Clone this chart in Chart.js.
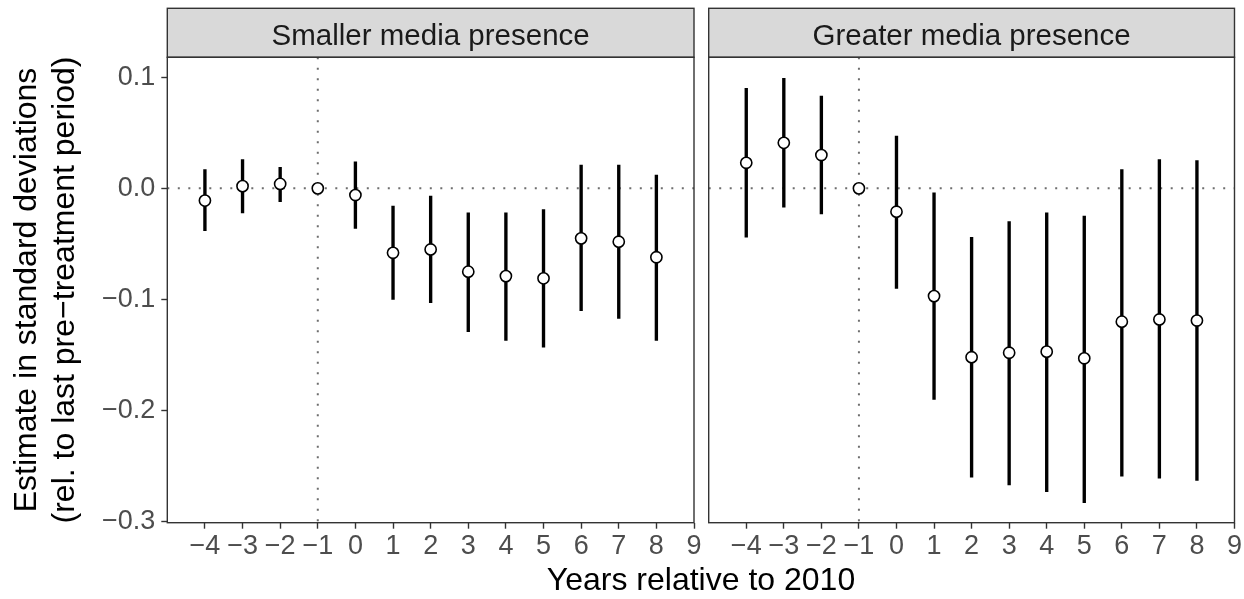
<!DOCTYPE html>
<html>
<head>
<meta charset="utf-8">
<script src="https://cdn.jsdelivr.net/npm/chart.js@4.4.1/dist/chart.umd.min.js"></script>
<style>
  html, body { margin: 0; padding: 0; background: #fff; }
  #wrap { position: relative; width: 1244px; height: 599px; overflow: hidden; }
  #wrap canvas { position: absolute; left: 0; top: 0; }
  #xtitle {
    position: absolute; left: 167px; width: 1068px; top: 563px;
    text-align: center; font: 32px "Liberation Sans", Arial, sans-serif;
    line-height: 32px; color: #000;
  }
</style>
</head>
<body>
<div id="wrap">
  <canvas id="leftPanel" width="1244" height="599"></canvas>
  <canvas id="rightPanel" width="1244" height="599"></canvas>
  <div id="xtitle">Years relative to 2010</div>
</div>
<script>
// --- data ---
const years = [-4, -3, -2, -1, 0, 1, 2, 3, 4, 5, 6, 7, 8];
const xTicks = [-4, -3, -2, -1, 0, 1, 2, 3, 4, 5, 6, 7, 8, 9];
const yTicks = [-0.3, -0.2, -0.1, 0, 0.1];
const panelTitles = ['Smaller media presence', 'Greater media presence'];

const smallEst = [-0.011, 0.002, 0.004, 0, -0.006, -0.058, -0.055, -0.075, -0.079, -0.081, -0.045, -0.048, -0.062];
const smallLo  = [-0.038, -0.022, -0.012, null, -0.036, -0.100, -0.103, -0.129, -0.137, -0.143, -0.110, -0.117, -0.137];
const smallHi  = [0.017, 0.026, 0.019, null, 0.024, -0.016, -0.007, -0.022, -0.022, -0.019, 0.021, 0.021, 0.012];

const greatEst = [0.023, 0.041, 0.030, 0, -0.021, -0.097, -0.152, -0.148, -0.147, -0.153, -0.120, -0.118, -0.119];
const greatLo  = [-0.044, -0.017, -0.023, null, -0.090, -0.190, -0.260, -0.267, -0.273, -0.283, -0.259, -0.261, -0.263];
const greatHi  = [0.090, 0.099, 0.083, null, 0.047, -0.004, -0.044, -0.030, -0.022, -0.025, 0.017, 0.026, 0.025];

const X_MIN = -5, X_MAX = 9;
const Y_MIN = -0.301, Y_MAX = 0.118;
const REF_YEAR = -1;

const FONT = '"Liberation Sans", Arial, sans-serif';
const minus = s => String(s).replace('-', '\u2212');

// strip header + panel border
const facetPlugin = {
    id: 'facet',
    afterDraw(chart, args, opts) {
        const { ctx, chartArea: a } = chart;
        ctx.save();
        // strip
        ctx.fillStyle = '#d9d9d9';
        ctx.fillRect(a.left, 8.3, a.right - a.left, a.top - 8.3);
        ctx.strokeStyle = '#333333';
        ctx.lineWidth = 1.4;
        ctx.strokeRect(a.left, 8.3, a.right - a.left, a.top - 8.3);
        ctx.fillStyle = '#1a1a1a';
        ctx.font = '29.5px ' + FONT;
        ctx.textAlign = 'center';
        ctx.textBaseline = 'alphabetic';
        ctx.fillText(opts.title, (a.left + a.right) / 2, 44.5);
        // panel border
        ctx.strokeRect(a.left, a.top, a.right - a.left, a.bottom - a.top);
        ctx.restore();
    }
};

function makePanel(canvasId, title, est, lo, hi, padLeft, padRight, showY) {
    const bars = [];
    const pts = [];
    years.forEach((yr, i) => {
        if (lo[i] !== null) bars.push({ x: yr, y: [lo[i], hi[i]] });
        pts.push({ x: yr, y: est[i] });
    });

    return new Chart(document.getElementById(canvasId), {
        type: 'bar',
        data: {
            datasets: [
                {
                    type: 'line',
                    data: [{ x: X_MIN, y: 0 }, { x: X_MAX, y: 0 }],
                    borderColor: '#6e6e6e',
                    borderWidth: 2,
                    borderDash: [2, 8.5],
                    pointRadius: 0,
                    order: 4
                },
                {
                    type: 'line',
                    data: [{ x: REF_YEAR, y: Y_MAX }, { x: REF_YEAR, y: Y_MIN }],
                    borderColor: '#6e6e6e',
                    borderWidth: 2,
                    borderDash: [2, 8.5],
                    pointRadius: 0,
                    order: 3
                },
                {
                    type: 'bar',
                    data: bars,
                    backgroundColor: '#000',
                    borderWidth: 0,
                    barThickness: 2.7,
                    order: 2
                },
                {
                    type: 'scatter',
                    data: pts,
                    pointRadius: 5.6,
                    pointBackgroundColor: '#fff',
                    pointBorderColor: '#000',
                    pointBorderWidth: 1.6,
                    order: 1
                }
            ]
        },
        options: {
            responsive: false,
            animation: false,
            events: [],
            layout: { padding: { left: padLeft, right: padRight, top: 57.3, bottom: 0 } },
            plugins: {
                legend: { display: false },
                tooltip: { enabled: false },
                facet: { title: title }
            },
            scales: {
                x: {
                    type: 'linear',
                    min: X_MIN,
                    max: X_MAX,
                    offset: false,
                    afterBuildTicks: s => { s.ticks = xTicks.map(v => ({ value: v })); },
                    afterFit: s => { s.height = 76.3; },
                    grid: { drawOnChartArea: false, drawTicks: true, tickLength: 6, tickColor: '#333333', tickWidth: 1.4, offset: false },
                    border: { display: false },
                    ticks: {
                        color: '#4d4d4d',
                        font: { family: FONT, size: 27 },
                        padding: 2,
                        maxRotation: 0,
                        autoSkip: false,
                        callback: v => minus(v)
                    }
                },
                y: {
                    type: 'linear',
                    display: showY,
                    min: Y_MIN,
                    max: Y_MAX,
                    afterBuildTicks: s => { s.ticks = yTicks.map(v => ({ value: v })); },
                    afterFit: s => { s.width = showY ? 167.3 : 0; },
                    grid: { drawOnChartArea: false, drawTicks: true, tickLength: 6, tickColor: '#333333', tickWidth: 1.4 },
                    border: { display: false },
                    ticks: {
                        color: '#4d4d4d',
                        font: { family: FONT, size: 27 },
                        padding: 6,
                        autoSkip: false,
                        callback: v => minus(v.toFixed(1))
                    },
                    title: {
                        display: true,
                        text: ['Estimate in standard deviations', '(rel. to last pre\u2212treatment period)'],
                        color: '#000',
                        font: { family: FONT, size: 32, lineHeight: 1.2 },
                        padding: { top: 8, bottom: 0 }
                    }
                }
            }
        },
        plugins: [facetPlugin]
    });
}

makePanel('leftPanel', panelTitles[0], smallEst, smallLo, smallHi, 0, 1244 - 694, true);
makePanel('rightPanel', panelTitles[1], greatEst, greatLo, greatHi, 708.7, 9, false);
</script>
</body>
</html>
